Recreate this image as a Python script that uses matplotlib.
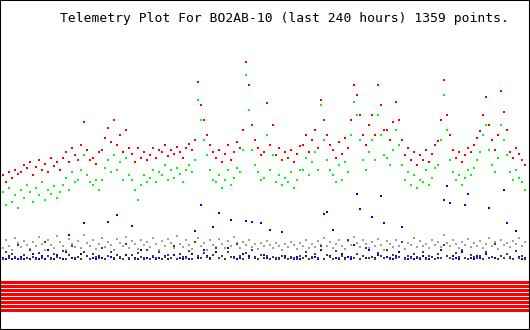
import numpy as np
import matplotlib
matplotlib.use("Agg")
import matplotlib.pyplot as plt

title = "Telemetry Plot For BO2AB-10 (last 240 hours) 1359 points."

# analog channels, one reading every ~1.4 h over the last 240 hours
ch_red = [150, 155, 148, 158, 152, 160, 156,
          158, 165, 162, 168, 155, 163, 170, 160, 166, 158, 172, 164, 168, 160,
          172, 178, 168, 182, 175, 170,
          185, 208, 180, 170,
          172, 166, 178,
          180, 192, 202, 188,
          210, 185, 195, 178, 200, 182,
          176, 168, 182, 172, 178, 170,
          175, 182, 172, 180, 178, 185, 174, 180, 176, 183, 178, 172, 182, 186,
          180, 190, 248,
          225, 210, 195, 185, 178,
          172, 180, 168, 176, 185, 170, 178, 188, 182,
          200, 268, 245, 205,
          190, 182, 175,
          178, 227, 185, 205, 175, 182, 170, 178, 172, 180, 168, 176, 184,
          185, 195, 178, 190, 200, 182,
          230, 210, 195, 185,
          180, 172, 188, 176, 192, 182,
          210, 245, 235, 215, 195,
          185, 205, 215, 195, 245, 225, 200,
          200, 190, 208, 228, 210,
          190, 175, 182, 170, 178, 165, 175, 170, 180, 168, 176, 185, 189,
          210, 250, 215,
          195, 180, 172, 178, 168, 175, 182,
          178, 185, 192, 199, 215, 233, 205, 190,
          180, 195, 239, 218, 200,
          178, 172, 182, 176, 170, 165]

ch_green = [130, 138, 125, 142, 128, 135, 122,
            140, 132, 145, 138, 128, 142, 135, 148, 130, 140, 136, 144, 132, 138,
            145, 152, 140, 158, 148, 150,
            160, 175, 155, 148,
            145, 150, 140,
            150, 162, 170, 158,
            175, 160, 168, 150, 172, 155,
            150, 140, 130, 145, 155, 148,
            152, 160, 148, 158, 155, 165, 150, 160, 152, 162, 156, 148, 160, 165,
            158, 170, 230,
            210, 190, 175, 160, 150,
            148, 155, 142, 150, 160, 145, 152, 162, 158,
            180, 255, 220, 180,
            165, 158, 150,
            152, 195, 160, 175, 148, 155, 145, 152, 148, 158, 142, 150, 160,
            160, 172, 155, 168, 178, 160,
            225, 190, 170, 160,
            155, 148, 165, 150, 168, 158,
            195, 228, 215, 190, 170,
            160, 178, 190, 170, 215, 195, 175,
            172, 165, 180, 200, 185,
            165, 150, 158, 145, 155, 142, 150, 148, 160, 145, 152, 162, 165,
            190, 235, 200,
            170, 158, 150, 155, 145, 152, 160,
            155, 162, 170, 178, 195, 205, 180, 165,
            158, 172, 205, 190, 175,
            158, 150, 160, 152, 148, 140]

ch_gray = [86, 82, 90, 84, 80, 92, 87, 83, 89, 85,
           81, 88, 84, 93, 86, 80, 90, 85, 82, 94,
           88, 84, 80, 91, 86, 83, 89, 82, 95, 87,
           84, 90, 81, 86, 92, 83, 88, 85, 80, 91,
           87, 84, 93, 82, 89, 86, 81, 90, 85, 88,
           83, 92, 86, 80, 89, 84, 91, 87, 82, 94,
           86, 83, 90, 85, 81, 88, 92, 84, 87, 80,
           90, 85, 83, 91, 86, 82, 89, 84, 93, 87,
           82, 88, 85, 90, 83, 86, 81, 87, 84, 89,
           85, 82, 87, 84, 80, 86, 83, 88, 85, 81,
           87, 84, 90, 82, 86, 83, 89, 85, 92, 84,
           88, 82, 86, 90, 84, 81, 89, 85, 93, 87,
           83, 90, 86, 82, 88, 84, 91, 85, 80, 89,
           86, 83, 90, 84, 88, 81, 87, 85, 92, 83,
           89, 84, 86, 82, 90, 85, 88, 83, 95, 87,
           84, 90, 86, 82, 88, 85, 91, 83, 87, 84,
           89, 82, 86, 92, 84, 88, 81, 90, 85, 87,
           83, 89, 86, 92, 84, 88]

ch_dark = [74, 71, 78, 72, 76, 73, 85, 71, 75, 72,
           80, 73, 71, 77, 72, 88, 74, 71, 76, 73,
           72, 79, 71, 75, 84, 72, 73, 71, 78, 74,
           71, 76, 73, 72, 82, 71, 74, 78, 72, 75,
           73, 71, 86, 72, 75, 71, 77, 73, 72, 80,
           71, 74, 72, 78, 71, 73, 75, 72, 84, 71,
           76, 73, 72, 79, 71, 88, 74, 72, 77, 73,
           71, 75, 82, 72, 74, 71, 78, 73, 72, 86,
           74, 71, 77, 72, 80, 73, 71, 75, 72, 74,
           71, 73, 72, 71, 74, 72, 71, 73, 72, 71,
           74, 72, 78, 71, 73, 76, 72, 84, 71, 75,
           73, 71, 79, 72, 74, 71, 90, 73, 72, 76,
           71, 74, 82, 72, 73, 71, 77, 74, 72, 80,
           71, 75, 72, 73, 88, 71, 74, 72, 76, 73,
           72, 78, 71, 74, 73, 71, 76, 72, 85, 74,
           72, 71, 77, 73, 80, 72, 71, 75, 73, 72,
           74, 71, 78, 72, 73, 86, 71, 74, 72, 76,
           73, 71, 79, 72, 74, 71]

ch_blue = [71, 72, 71, 74, 71, 72, 71, 73, 71, 72,
           71, 76, 72, 71, 74, 71, 80, 72, 71, 75,
           72, 71, 78, 95, 72, 71, 73, 76, 107, 74,
           71, 72, 71, 74, 72, 71, 108, 73, 71, 115,
           72, 71, 75, 71, 104, 72, 71, 80, 71, 72,
           71, 73, 71, 72, 71, 74, 71, 72, 75, 71,
           72, 71, 73, 71, 76, 99, 72, 125, 80, 74,
           72, 103, 78, 117, 74, 71, 82, 110, 73, 71,
           72, 76, 109, 74, 108, 72, 71, 107, 75, 72,
           100, 73, 71, 72, 98, 74, 71, 72, 71, 73,
           71, 72, 74, 71, 72, 73, 71, 80, 116, 118,
           74, 100, 72, 71, 76, 72, 73, 71, 85, 136,
           121, 74, 72, 80, 113, 72, 75, 134, 107, 73,
           72, 71, 74, 78, 103, 72, 71, 73, 71, 72,
           71, 74, 72, 71, 73, 71, 72, 80, 130, 144,
           127, 74, 72, 71, 78, 125, 136, 72, 71, 74,
           72, 71, 76, 122, 73, 72, 71, 74, 140, 107,
           72, 71, 99, 73, 71, 72]

# 8 digital bits, all steady for the whole period
bit_levels = [48.5, 44.5, 40.5, 36.5, 32.5, 28.5, 24.5, 20.5]

hours = np.linspace(0, 238.5, len(ch_red))

fig = plt.figure(figsize=(5.3, 3.3), dpi=100)
ax = fig.add_axes([0, 0, 1, 1])

ax.hlines(bit_levels, 0, 240, color="#ff0000", linewidth=2.16,
          antialiased=False)

ax.plot(hours, ch_gray, "s", ms=1.8, mew=0, color="#a0a0a0")
ax.plot(hours, ch_blue, "s", ms=1.8, mew=0, color="#0000ff")
ax.plot(hours, ch_dark, "s", ms=1.8, mew=0, color="#404040")
ax.plot(hours, ch_green, "s", ms=1.8, mew=0, color="#00ff00")
ax.plot(hours, ch_red, "s", ms=1.8, mew=0, color="#ff0000")

ax.set_xlim(0, 241)
ax.set_ylim(0, 330)
ax.set_xticks([])
ax.set_yticks([])
for s in ax.spines.values():
    s.set_color("black")
    s.set_linewidth(1.5)

fig.text(60 / 530, 1 - 22 / 330, title, family="DejaVu Sans Mono",
         fontsize=9.4, va="baseline", ha="left", color="black")

plt.savefig("out.png", dpi=100)
plt.close()
